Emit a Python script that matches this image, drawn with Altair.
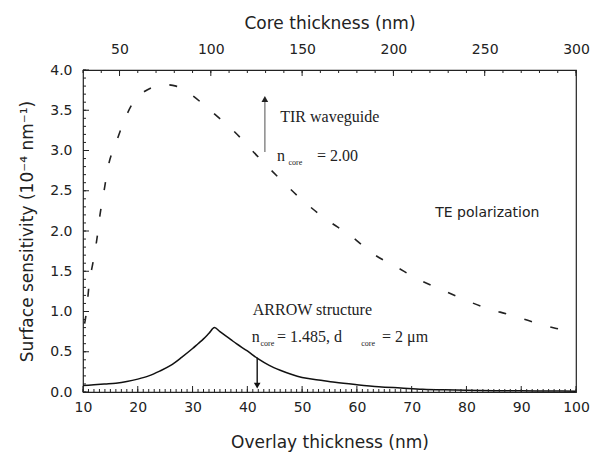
import altair as alt
import pandas as pd

# ---- data ----
tir_x = [10.3, 10.7, 11.1, 11.8, 12.6, 13.1, 13.8, 14.6, 16.0, 17.7, 19.0, 20.4, 22.5, 24.6,
         27.0, 29.2, 33.2, 37.7, 41.7, 45.9, 50.1, 54.5, 58.7, 62.9, 67.3, 70.9, 75.5, 79.2,
         83.7, 87.9, 92.1, 96.4, 100]
tir_y = [0.85, 1.04, 1.33, 1.60, 1.93, 2.20, 2.48, 2.80, 3.09, 3.40, 3.58, 3.69, 3.78, 3.82,
         3.80, 3.72, 3.50, 3.23, 2.94, 2.65, 2.38, 2.14, 1.95, 1.72, 1.55, 1.41, 1.27, 1.16,
         1.04, 0.96, 0.87, 0.79, 0.74]

arrow_x = [10, 12, 14, 16, 18, 20, 22, 24, 26, 28, 30, 31, 32, 33, 34, 35, 36, 37, 38, 40,
           42, 44, 46, 48, 50, 53, 56, 60, 64, 68, 72, 76, 80, 85, 90, 95, 100]
arrow_y = [0.08, 0.09, 0.10, 0.11, 0.13, 0.16, 0.20, 0.26, 0.33, 0.43, 0.54, 0.60, 0.66, 0.73,
           0.80, 0.75, 0.70, 0.65, 0.60, 0.51, 0.41, 0.33, 0.27, 0.22, 0.18, 0.15, 0.12, 0.09,
           0.065, 0.05, 0.035, 0.027, 0.022, 0.017, 0.014, 0.012, 0.01]

bottom_major = [10, 20, 30, 40, 50, 60, 70, 80, 90, 100]
bottom_minor = [v for v in range(10, 101)]
left_major = [0.0, 0.5, 1.0, 1.5, 2.0, 2.5, 3.0, 3.5, 4.0]
left_minor = [round(v * 0.1, 1) for v in range(0, 41)]
top_major = [50, 100, 150, 200, 250, 300]
top_minor = [v for v in range(30, 301, 10)]

XDOM = [10, 100]
YDOM = [0, 4]
TOPDOM = [30, 300]
W, H = 493, 322
SANS = "DejaVu Sans"
SERIF = "Liberation Serif"

xs = alt.Scale(domain=XDOM, nice=False, zero=False)
ys = alt.Scale(domain=YDOM, nice=False, zero=False)
ts = alt.Scale(domain=TOPDOM, nice=False, zero=False)

AX = alt.Axis(values=bottom_major, format="d", ticks=False, domain=False, grid=False,
              labelFlush=False, labelFont=SANS, labelFontSize=14, labelColor="#222",
              labelPadding=8, title="Overlay thickness (nm)", titleFont=SANS, titleFontSize=17,
              titleFontWeight="normal", titleColor="#222", titlePadding=20)
AY = alt.Axis(values=left_major, format=".1f", ticks=False, domain=False, grid=False,
              labelFlush=False, labelFont=SANS, labelFontSize=14, labelColor="#222",
              labelPadding=11, title="Surface sensitivity (10⁻⁴ nm⁻¹)", titleFont=SANS,
              titleFontSize=17, titleFontWeight="normal", titleColor="#222", titlePadding=13)
AT = alt.Axis(orient="top", values=top_major, format="d", ticks=False, domain=False,
              grid=False, labelFlush=False, labelFont=SANS, labelFontSize=14,
              labelColor="#222", labelPadding=14, title="Core thickness (nm)",
              titleFont=SANS, titleFontSize=17, titleFontWeight="normal",
              titleColor="#222", titlePadding=10)


def X(field):
    return alt.X(field, type="quantitative", scale=xs, axis=AX)


def Y(field):
    return alt.Y(field, type="quantitative", scale=ys, axis=AY)


tir = pd.DataFrame({"x": tir_x, "y": tir_y})
arr = pd.DataFrame({"x": arrow_x, "y": arrow_y})

tir_line = alt.Chart(tir).mark_line(color="#222", strokeWidth=1.6, strokeDash=[8, 19],
                                    interpolate="monotone").encode(x=X("x"), y=Y("y"))
arrow_line = alt.Chart(arr).mark_line(color="#111", strokeWidth=1.5,
                                      interpolate="monotone").encode(x=X("x"), y=Y("y"))


def vticks(values, y1, y2):
    return alt.Chart(pd.DataFrame({"v": values})).mark_rule(color="#222", strokeWidth=1).encode(
        x=X("v"), y=alt.value(y1), y2=alt.value(y2))


def hticks(values, length):
    return alt.Chart(pd.DataFrame({"v": values})).mark_rule(color="#222", strokeWidth=1).encode(
        y=Y("v"), x=alt.value(0), x2=alt.value(length))


def txt(s, x, y, size, font=SERIF, color="#222"):
    return alt.Chart(pd.DataFrame({"t": [s], "x": [x], "y": [y]})).mark_text(
        align="left", baseline="alphabetic", font=font, fontSize=size, color=color).encode(
        x=X("x"), y=Y("y"), text="t:N")


gray_arrow = alt.Chart(pd.DataFrame({"x": [43.2], "y": [2.98], "y2": [3.62]})).mark_rule(
    color="#8a8a8a", strokeWidth=1.5).encode(x=X("x"), y=Y("y"), y2="y2:Q")
gray_head = alt.Chart(pd.DataFrame({"x": [43.2], "y": [3.64]})).mark_point(
    shape="triangle-up", filled=True, color="#222", size=45, opacity=1).encode(x=X("x"), y=Y("y"))
black_arrow = alt.Chart(pd.DataFrame({"x": [41.8], "y": [0.43], "y2": [0.10]})).mark_rule(
    color="#111", strokeWidth=1.4).encode(x=X("x"), y=Y("y"), y2="y2:Q")
black_head = alt.Chart(pd.DataFrame({"x": [41.8], "y": [0.08]})).mark_point(
    shape="triangle-down", filled=True, color="#111", size=45, opacity=1).encode(x=X("x"), y=Y("y"))

inner = alt.layer(
    tir_line, arrow_line,
    vticks(bottom_minor, H, H - 3), vticks(bottom_major, H, H - 6),
    hticks(left_minor, 3), hticks(left_major, 6),
    gray_arrow, gray_head, black_arrow, black_head,
    txt("TIR waveguide", 46.0, 3.35, 16),
    txt("n", 45.4, 2.87, 16), txt("core", 47.5, 2.82, 8), txt("= 2.00", 52.7, 2.87, 16),
    txt("TE polarization", 74.3, 2.17, 14, font=SANS),
    txt("ARROW structure", 41.0, 0.96, 16),
    txt("n", 40.8, 0.62, 16), txt("core", 42.4, 0.57, 8),
    txt("= 1.485, d", 45.4, 0.62, 16), txt("core", 60.8, 0.57, 8),
    txt("= 2 μm", 64.6, 0.62, 16),
)

top_major_layer = alt.Chart(pd.DataFrame({"v": top_major})).mark_rule(
    color="#222", strokeWidth=1).encode(
    x=alt.X("v:Q", scale=ts, axis=AT), y=alt.value(0), y2=alt.value(6))
top_minor_layer = alt.Chart(pd.DataFrame({"v": top_minor})).mark_rule(
    color="#222", strokeWidth=1).encode(
    x=alt.X("v:Q", scale=ts, axis=AT), y=alt.value(0), y2=alt.value(3))
top = alt.layer(top_major_layer, top_minor_layer)

chart = alt.layer(inner, top).resolve_scale(x="independent").properties(
    width=W, height=H,
    autosize=alt.AutoSizeParams(type="none"),
    padding={"left": 83, "top": 70, "right": 15, "bottom": 66},
    background="white",
).configure_view(stroke="#222", strokeWidth=1.2)

chart.save("out.html", embed_options={"renderer": "svg", "actions": False})
